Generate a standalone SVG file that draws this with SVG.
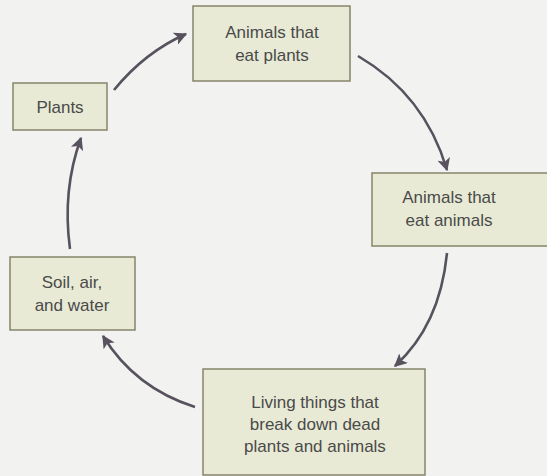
<svg xmlns="http://www.w3.org/2000/svg" width="547" height="476" viewBox="0 0 547 476">
<defs>
<style>
.box{fill:#e8ead5;stroke:#85856a;stroke-width:1.5}
.t{font-family:"Liberation Sans",Arial,sans-serif;font-size:17px;fill:#4a4a4a;text-anchor:middle}
.c{fill:none;stroke:#57525e;stroke-width:2.6}
</style>
<marker id="ah" viewBox="0 0 10 10" refX="9" refY="5" markerWidth="5" markerHeight="5" orient="auto" markerUnits="strokeWidth">
<path d="M0,0 L10,5 L0,10 L2.5,5 z" fill="#57525e"/>
</marker>
</defs>
<rect width="547" height="476" fill="#f2f2f1"/>
<g id="connectors">
<path class="c" d="M114,90 Q145,52 186,34" marker-end="url(#ah)"/>
<path class="c" d="M358,56 Q425,95 447,170" marker-end="url(#ah)"/>
<path class="c" d="M447,253 Q440,325 395,366" marker-end="url(#ah)"/>
<path class="c" d="M195,407 Q135,388 103,336" marker-end="url(#ah)"/>
<path class="c" d="M70,249 Q62,190 81,138" marker-end="url(#ah)"/>
</g>
<g id="animals-eat-plants">
<rect class="box" x="193" y="6" width="157" height="75"/>
<text class="t" x="272" y="38">Animals that</text>
<text class="t" x="272" y="61">eat plants</text>
</g>
<g id="plants">
<rect class="box" x="13" y="83" width="94" height="47"/>
<text class="t" x="60" y="113">Plants</text>
</g>
<g id="animals-eat-animals">
<rect class="box" x="372" y="173" width="180" height="73"/>
<text class="t" x="449" y="203">Animals that</text>
<text class="t" x="449" y="226">eat animals</text>
</g>
<g id="soil-air-water">
<rect class="box" x="10" y="257" width="125" height="73"/>
<text class="t" x="72" y="288">Soil, air,</text>
<text class="t" x="72" y="311">and water</text>
</g>
<g id="decomposers">
<rect class="box" x="203" y="369" width="222" height="106"/>
<text class="t" x="315" y="408">Living things that</text>
<text class="t" x="315" y="430">break down dead</text>
<text class="t" x="315" y="452">plants and animals</text>
</g>
</svg>
